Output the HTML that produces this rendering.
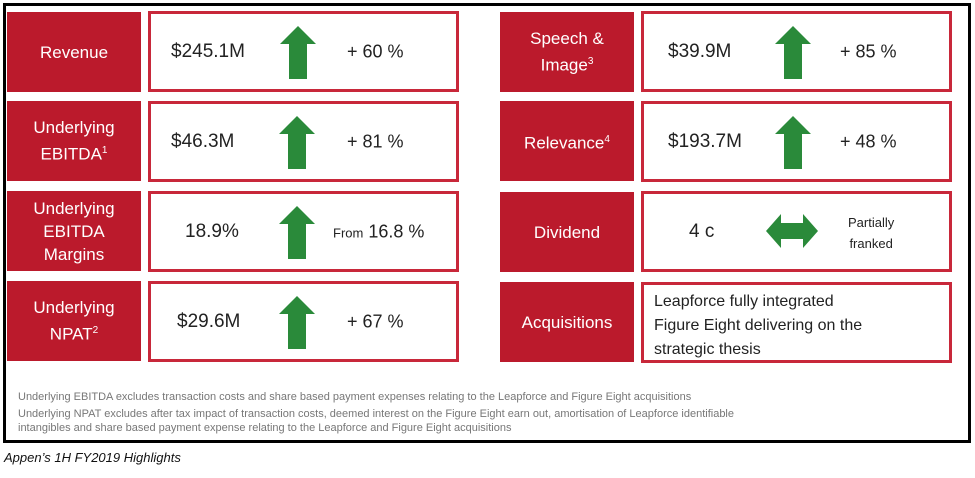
<!DOCTYPE html>
<html><head><meta charset="utf-8"><style>
*{margin:0;padding:0;box-sizing:border-box}
body{width:975px;height:478px;background:#fff;position:relative;font-family:"Liberation Sans",sans-serif;overflow:hidden}
.frame{position:absolute;left:3px;top:3px;width:968px;height:440px;border:3px solid #000}
.lab{position:absolute;width:134px;height:80px;background:#bb1a2c;color:#fff;font-size:17px;display:flex;align-items:center;justify-content:center;text-align:center;line-height:23px}
.val{position:absolute;width:311px;height:81px;border:3px solid #c8283a;background:#fff}
.v{position:absolute;font-size:19px;color:#222;top:50%;transform:translateY(-50%)}
.p{position:absolute;font-size:18px;color:#222;top:50%;transform:translateY(-50%)}
.arr{position:absolute;top:12px}
sup{font-size:10px}
.fn{position:absolute;left:18px;font-size:11px;color:#777;line-height:14px}
</style></head><body>
<div class="frame"></div>

<div class="lab" style="left:7px;top:12px">Revenue</div>
<div class="val" style="left:148px;top:11px"><span class="v" style="left:20px">$245.1M</span><svg class="arr" style="left:129px" width="36" height="53" viewBox="0 0 36 53"><polygon points="18,0 36,18 27,18 27,53 9,53 9,18 0,18" fill="#2a8a3a"/></svg><span class="p" style="left:196px">+ 60 %</span></div>

<div class="lab" style="left:7px;top:101px;flex-direction:column"><div>Underlying</div><div>EBITDA<sup>1</sup></div></div>
<div class="val" style="left:148px;top:101px"><span class="v" style="left:20px">$46.3M</span><svg class="arr" style="left:128px" width="36" height="53" viewBox="0 0 36 53"><polygon points="18,0 36,18 27,18 27,53 9,53 9,18 0,18" fill="#2a8a3a"/></svg><span class="p" style="left:196px">+ 81 %</span></div>

<div class="lab" style="left:7px;top:191px;flex-direction:column"><div>Underlying</div><div>EBITDA</div><div>Margins</div></div>
<div class="val" style="left:148px;top:191px"><span class="v" style="left:34px">18.9%</span><svg class="arr" style="left:128px" width="36" height="53" viewBox="0 0 36 53"><polygon points="18,0 36,18 27,18 27,53 9,53 9,18 0,18" fill="#2a8a3a"/></svg><span class="p" style="left:182px"><span style="font-size:13px">From</span> 16.8 %</span></div>

<div class="lab" style="left:7px;top:281px;flex-direction:column"><div>Underlying</div><div>NPAT<sup>2</sup></div></div>
<div class="val" style="left:148px;top:281px"><span class="v" style="left:26px">$29.6M</span><svg class="arr" style="left:128px" width="36" height="53" viewBox="0 0 36 53"><polygon points="18,0 36,18 27,18 27,53 9,53 9,18 0,18" fill="#2a8a3a"/></svg><span class="p" style="left:196px">+ 67 %</span></div>

<div class="lab" style="left:500px;top:12px;flex-direction:column"><div>Speech &amp;</div><div>Image<sup>3</sup></div></div>
<div class="val" style="left:641px;top:11px"><span class="v" style="left:24px">$39.9M</span><svg class="arr" style="left:131px" width="36" height="53" viewBox="0 0 36 53"><polygon points="18,0 36,18 27,18 27,53 9,53 9,18 0,18" fill="#2a8a3a"/></svg><span class="p" style="left:196px">+ 85 %</span></div>

<div class="lab" style="left:500px;top:101px"><div>Relevance<sup>4</sup></div></div>
<div class="val" style="left:641px;top:101px"><span class="v" style="left:24px">$193.7M</span><svg class="arr" style="left:131px" width="36" height="53" viewBox="0 0 36 53"><polygon points="18,0 36,18 27,18 27,53 9,53 9,18 0,18" fill="#2a8a3a"/></svg><span class="p" style="left:196px">+ 48 %</span></div>

<div class="lab" style="left:500px;top:192px">Dividend</div>
<div class="val" style="left:641px;top:191px"><span class="v" style="left:45px">4 c</span><svg style="position:absolute;left:122px;top:20px" width="52" height="34" viewBox="0 0 52 34"><polygon points="0,17 15,0 15,9 37,9 37,0 52,17 37,34 37,25 15,25 15,34" fill="#2a8a3a"/></svg><span style="position:absolute;left:204px;top:18px;font-size:13px;color:#222;line-height:21px;text-align:center">Partially<br>franked</span></div>

<div class="lab" style="left:500px;top:282px">Acquisitions</div>
<div class="val" style="left:641px;top:282px"><div style="position:absolute;left:10px;top:5px;font-size:16px;color:#222;line-height:24px">Leapforce fully integrated<br>Figure Eight delivering on the<br>strategic thesis</div></div>

<div class="fn" style="top:390px">Underlying EBITDA excludes transaction costs and share based payment expenses relating to the Leapforce and Figure Eight acquisitions</div>
<div class="fn" style="top:407px">Underlying NPAT excludes after tax impact of transaction costs, deemed interest on the Figure Eight earn out, amortisation of Leapforce identifiable<br>intangibles and share based payment expense relating to the Leapforce and Figure Eight acquisitions</div>
<div style="position:absolute;left:4px;top:450px;font-size:13px;font-style:italic;color:#111">Appen’s 1H FY2019 Highlights</div>
</body></html>
